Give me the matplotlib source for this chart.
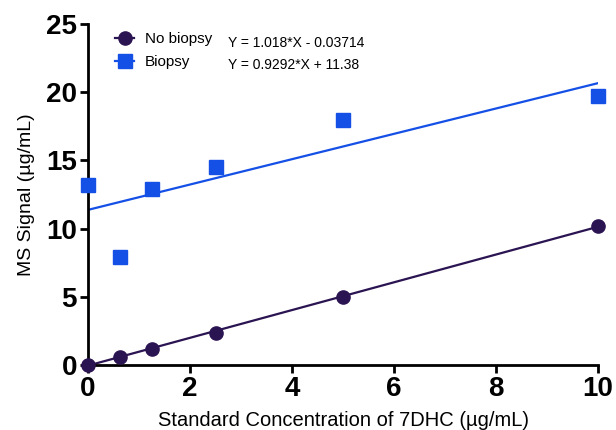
import numpy as np
import matplotlib.pyplot as plt
from matplotlib.lines import Line2D

plt.rcParams['font.family'] = ['Liberation Sans', 'DejaVu Sans']

conc = [0, 0.625, 1.25, 2.5, 5, 10]
no_biopsy = [0.0, 0.62, 1.18, 2.36, 5.0, 10.2]
biopsy = [13.2, 7.93, 12.88, 14.5, 17.98, 19.73]

fit_no = (1.018, -0.03714)
fit_bx = (0.9292, 11.38)
eq_no = 'Y = 1.018*X - 0.03714'
eq_bx = 'Y = 0.9292*X + 11.38'

purple = '#2b1452'
blue = '#1550e6'

fig = plt.figure(figsize=(6.16, 4.30), dpi=100)
ax = fig.add_axes([0.143, 0.151, 0.828, 0.793])

xs = np.array([0, 10])
ax.plot(xs, fit_no[0] * xs + fit_no[1], color=purple, lw=1.6, zorder=2)
ax.plot(xs, fit_bx[0] * xs + fit_bx[1], color=blue, lw=1.6, zorder=2)
ax.plot(conc, no_biopsy, 'o', color=purple, ms=9.5, clip_on=False, zorder=3)
ax.plot(conc, biopsy, 's', color=blue, ms=10, clip_on=False, zorder=3)

ax.set_xlim(0, 10)
ax.set_ylim(0, 25)
ax.set_xticks([0, 2, 4, 6, 8, 10])
ax.set_yticks([0, 5, 10, 15, 20, 25])
for s in ['top', 'right']:
    ax.spines[s].set_visible(False)
for s in ['left', 'bottom']:
    ax.spines[s].set_linewidth(2)
ax.tick_params(width=2, length=6, labelsize=20, pad=2)
for lab in ax.get_xticklabels() + ax.get_yticklabels():
    lab.set_fontweight('bold')

ax.set_xlabel('Standard Concentration of 7DHC (\u00b5g/mL)', fontsize=14.5, labelpad=6)
ax.set_ylabel('MS Signal (\u00b5g/mL)', fontsize=14, labelpad=8)

# GraphPad-style legend: marker with a short line through it
h1 = Line2D([], [], color=purple, marker='o', ms=9.5, lw=1.6)
h2 = Line2D([], [], color=blue, marker='s', ms=10, lw=1.6)
ax.legend([h1, h2], ['No biopsy', 'Biopsy'], loc='upper left',
          bbox_to_anchor=(0.025, 1.017), frameon=False, fontsize=11,
          handlelength=1.3, handletextpad=0.7, labelspacing=0.6)
ax.text(0.275, 0.945, eq_no, transform=ax.transAxes, fontsize=10, va='center')
ax.text(0.275, 0.88, eq_bx, transform=ax.transAxes, fontsize=10, va='center')

fig.savefig('out.png', dpi=100)
